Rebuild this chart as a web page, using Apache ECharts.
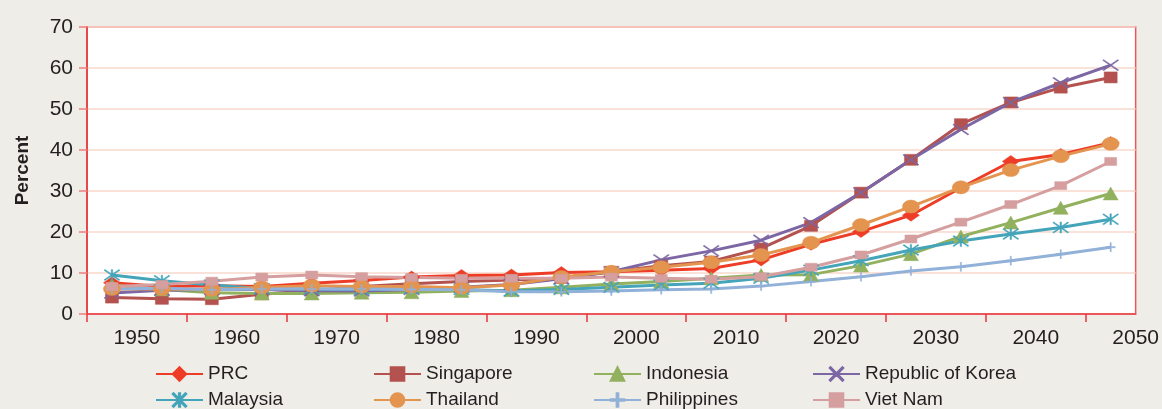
<!DOCTYPE html>
<html>
<head>
<meta charset="utf-8">
<script src="https://cdn.jsdelivr.net/npm/echarts@6/dist/echarts.min.js"></script>
<style>
  html, body { margin: 0; padding: 0; background: #efede8; }
  #chart { width: 1162px; height: 409px; }
</style>
</head>
<body>
<div id="chart"></div>
<script>
// years of the data points (every 5 years)
var years = [1950, 1955, 1960, 1965, 1970, 1975, 1980, 1985, 1990, 1995, 2000,
             2005, 2010, 2015, 2020, 2025, 2030, 2035, 2040, 2045, 2050]
var tickLabels = ['1950', '1960', '1970', '1980', '1990', '2000', '2010', '2020', '2030', '2040', '2050']

var prc = [7.6, 6.7, 6.9, 6.7, 7.5, 8.2, 9.0, 9.4, 9.5, 10.1, 10.3, 10.7, 11.1, 13.2, 17.0, 20.1, 24.1, 30.8, 37.2, 38.9, 41.8]
var singapore = [4.0, 3.7, 3.6, 4.8, 5.7, 6.7, 7.4, 7.9, 8.3, 8.8, 10.3, 11.8, 12.8, 16.0, 21.5, 29.6, 37.6, 46.3, 51.6, 55.2, 57.7]
var indonesia = [7.1, 6.0, 5.2, 5.0, 5.0, 5.2, 5.3, 5.6, 5.8, 6.5, 7.3, 7.9, 8.7, 9.5, 9.6, 11.8, 14.6, 18.9, 22.3, 25.9, 29.4]
var korea = [5.1, 5.8, 6.0, 6.0, 5.7, 5.6, 6.0, 6.5, 7.2, 8.6, 10.3, 13.2, 15.4, 18.0, 22.3, 29.6, 37.6, 45.0, 51.6, 56.4, 60.7]
var malaysia = [9.5, 8.1, 7.1, 6.2, 6.1, 6.0, 6.2, 6.0, 5.6, 6.0, 6.5, 7.1, 7.5, 8.7, 10.7, 13.0, 15.6, 17.8, 19.5, 21.1, 23.1]
var thailand = [6.1, 6.1, 5.9, 6.5, 6.9, 6.7, 6.7, 6.4, 7.1, 9.0, 10.3, 11.4, 12.6, 14.4, 17.4, 21.7, 26.2, 30.9, 35.1, 38.5, 41.5]
var philippines = [6.1, 6.3, 5.9, 6.1, 6.1, 6.1, 6.0, 5.9, 5.4, 5.4, 5.6, 5.9, 6.1, 6.8, 7.9, 9.1, 10.5, 11.5, 13.0, 14.6, 16.3]
var vietnam = [6.7, 7.2, 8.0, 9.0, 9.5, 9.1, 8.9, 8.7, 8.7, 8.7, 9.0, 8.7, 8.5, 9.1, 11.4, 14.4, 18.3, 22.4, 26.7, 31.3, 37.2]

// marker shapes
var xMark = 'path://M0,1L1,0L8,7L15,0L16,1L9,8L16,15L15,16L8,9L1,16L0,15L7,8Z'
var starMark = 'path://M0,1L1,0L8,7L15,0L16,1L9,8L16,15L15,16L8,9L1,16L0,15L7,8Z M7.3,0L8.7,0L8.7,16L7.3,16Z'
var plusMark = 'path://M0,7L7,7L7,0L9,0L9,7L16,7L16,9L9,9L9,16L7,16L7,9L0,9Z'

var pairs = function (vals) {
    var out = []
    for (var i = 0; i < years.length; i++) {
        out.push([years[i], vals[i]])
    }
    return out
}

var makeSeries = function (name, vals, color, symbol, size) {
    return {
        name: name,
        type: 'line',
        data: pairs(vals),
        symbol: symbol,
        symbolSize: size,
        showAllSymbol: true,
        lineStyle: { color: color, width: 3 },
        itemStyle: { color: color, borderColor: color, borderWidth: 0.5 },
        emphasis: { disabled: true }
    }
}

// tick marks sit between pairs of points, labels half a step further
var tickVals = []
var labelVals = []
for (var k = 0; k < tickLabels.length; k++) {
    tickVals.push(parseInt(tickLabels[k]) - 2.5)
    labelVals.push(parseInt(tickLabels[k]) + 2.5)
}

var fontFam = '"Liberation Sans", Arial, sans-serif'

var legendBase = function (left, names) {
    return {
        orient: 'vertical',
        left: left,
        top: 364,
        height: 60,
        padding: 0,
        itemWidth: 47,
        itemHeight: 17,
        itemGap: 6,
        textStyle: { fontSize: 19, color: '#231f20', fontFamily: fontFam, lineHeight: 20 },
        data: names
    }
}

var chart = echarts.init(document.getElementById('chart'))
var option = {
    backgroundColor: '#efede8',
    animation: false,
    grid: {
        left: 87, right: 23, top: 27, bottom: 95,
        show: true,
        backgroundColor: '#ffffff',
        borderColor: '#e8585c',
        borderWidth: 1.5
    },
    legend: [
        legendBase(155, ['PRC', 'Malaysia']),
        legendBase(373, ['Singapore', 'Thailand']),
        legendBase(593, ['Indonesia', 'Philippines']),
        legendBase(812, ['Republic of Korea', 'Viet Nam'])
    ],
    xAxis: {
        type: 'value',
        min: years[0] - 2.5,
        max: years[years.length - 1] + 2.5,
        axisLine: { show: true, lineStyle: { color: '#e8343a', width: 1.5 } },
        axisTick: { show: true, customValues: tickVals, length: 8, lineStyle: { color: '#e8343a', width: 1.5 } },
        axisLabel: {
            customValues: labelVals,
            fontSize: 21, color: '#231f20', fontFamily: fontFam, margin: 14,
            formatter: function (v) { return String(Math.round(v - 2.5)) }
        },
        splitLine: { show: false }
    },
    yAxis: {
        type: 'value',
        min: 0,
        max: 70,
        interval: 10,
        name: 'Percent',
        nameLocation: 'middle',
        nameGap: 55,
        nameTextStyle: { fontSize: 19, fontWeight: 'bold', color: '#231f20', fontFamily: fontFam },
        axisLine: { show: true, lineStyle: { color: '#e8343a', width: 1.5 } },
        axisTick: { show: true, length: 8, lineStyle: { color: '#ee7c7e', width: 1.5 } },
        axisLabel: { fontSize: 21, color: '#231f20', fontFamily: fontFam, margin: 14 },
        splitLine: { lineStyle: { color: '#fad8cd', width: 1.5 } }
    },
    series: [
        makeSeries('PRC', prc, '#ee3d26', 'diamond', [17, 12]),
        makeSeries('Singapore', singapore, '#b3524f', 'rect', [13, 11]),
        makeSeries('Indonesia', indonesia, '#92b15e', 'triangle', [15, 13]),
        makeSeries('Republic of Korea', korea, '#7c66a3', xMark, [16, 11]),
        makeSeries('Malaysia', malaysia, '#44a5ba', starMark, [16, 11]),
        makeSeries('Thailand', thailand, '#e3944f', 'circle', [17, 13]),
        makeSeries('Philippines', philippines, '#92b1d9', plusMark, [9, 9]),
        makeSeries('Viet Nam', vietnam, '#d69f9f', 'rect', [12, 8])
    ]
}
chart.setOption(option)
window.addEventListener('resize', function () {
    chart.resize()
})
</script>
</body>
</html>
